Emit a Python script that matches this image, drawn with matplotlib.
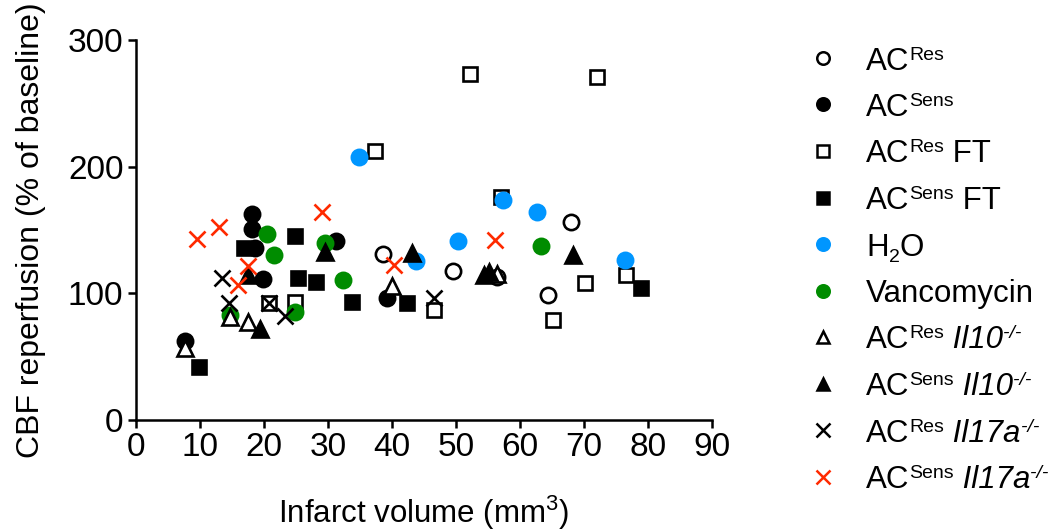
import matplotlib
matplotlib.use("Agg")
import matplotlib.pyplot as plt
from matplotlib.lines import Line2D

plt.rcParams['font.family'] = ['Liberation Sans', 'DejaVu Sans']
plt.rcParams['mathtext.fontset'] = 'custom'
plt.rcParams['mathtext.rm'] = 'Liberation Sans'
plt.rcParams['mathtext.it'] = 'Liberation Sans:italic'

# data: (infarct volume, CBF %)
ac_res_x = [38.6, 49.6, 56.4, 64.3, 67.9]
ac_res_y = [131, 118, 113, 99, 156.5]

ac_sens_x = [7.7, 18.1, 18.2, 18.6, 19.9, 31.3, 39.2]
ac_sens_y = [62, 163, 150.5, 136, 111, 141.5, 96]

ac_res_ft_x = [20.8, 24.8, 37.3, 46.5, 52.2, 57.1, 65.2, 70.2, 72.1, 76.6]
ac_res_ft_y = [92, 93.5, 212, 87, 273, 176, 79, 108.4, 271, 114.5]

ac_sens_ft_x = [9.8, 16.8, 24.8, 25.3, 28.1, 33.7, 42.3, 78.9]
ac_sens_ft_y = [42, 135.5, 145.5, 112, 109, 93.4, 92.6, 104]

h2o_x = [34.9, 43.7, 50.3, 57.4, 62.6, 76.4]
h2o_y = [208, 125.5, 141, 174, 164, 126]

vanco_x = [14.7, 20.5, 21.6, 24.8, 29.5, 32.3, 63.3]
vanco_y = [83, 147, 130, 85.5, 139.5, 110.5, 137]

res_il10_x = [7.7, 14.7, 17.5, 40.0, 56.4]
res_il10_y = [57, 81, 77.6, 106, 115]

sens_il10_x = [17.5, 19.3, 29.6, 43.1, 54.3, 55.2, 68.3]
sens_il10_y = [114.5, 71.6, 133, 132, 114.5, 116.5, 130]

res_il17_x = [13.4, 14.6, 20.8, 23.3, 46.6]
res_il17_y = [112, 92.6, 92, 82, 96]

sens_il17_x = [9.5, 12.9, 16.0, 17.5, 29.0, 40.3, 56.1]
sens_il17_y = [142.6, 152, 106.5, 121.5, 164, 122, 142]

# legend labels as pieces: (text, kind) with kind n=normal, sup, sub, it, itsup
labels = [
    [('AC', 'n'), ('Res', 'sup')],
    [('AC', 'n'), ('Sens', 'sup')],
    [('AC', 'n'), ('Res', 'sup'), (' FT', 'n')],
    [('AC', 'n'), ('Sens', 'sup'), (' FT', 'n')],
    [('H', 'n'), ('2', 'sub'), ('O', 'n')],
    [('Vancomycin', 'n')],
    [('AC', 'n'), ('Res', 'sup'), (' Il10', 'it'), ('-/-', 'itsup')],
    [('AC', 'n'), ('Sens', 'sup'), (' Il10', 'it'), ('-/-', 'itsup')],
    [('AC', 'n'), ('Res', 'sup'), (' Il17a', 'it'), ('-/-', 'itsup')],
    [('AC', 'n'), ('Sens', 'sup'), (' Il17a', 'it'), ('-/-', 'itsup')],
]

blue = '#0096ff'
green = '#008c00'
red = '#ff2a00'

series = [
    (ac_res_x, ac_res_y, 'o', 'white', 'black'),
    (ac_sens_x, ac_sens_y, 'o', 'black', 'black'),
    (ac_res_ft_x, ac_res_ft_y, 's', 'white', 'black'),
    (ac_sens_ft_x, ac_sens_ft_y, 's', 'black', 'black'),
    (h2o_x, h2o_y, 'o', blue, blue),
    (vanco_x, vanco_y, 'o', green, green),
    (res_il10_x, res_il10_y, '^', 'white', 'black'),
    (sens_il10_x, sens_il10_y, '^', 'black', 'black'),
    (res_il17_x, res_il17_y, 'x', 'black', 'black'),
    (sens_il17_x, sens_il17_y, 'x', red, red),
]

W, H = 1052, 531
fig = plt.figure(figsize=(W / 100, H / 100), dpi=100)
ax = fig.add_axes([136 / W, 1 - 420 / H, 576 / W, 380 / H])

for xs, ys, m, fc, ec in series:
    ms = {'o': 11, 's': 10.5, '^': 11, 'x': 11.5}[m]
    ax.plot(xs, ys, linestyle='none', marker=m, markersize=ms,
            markerfacecolor=fc, markeredgecolor=ec, markeredgewidth=1.9,
            clip_on=False)

ax.set_xlim(0, 90)
ax.set_ylim(0, 300)
ax.set_xticks(range(0, 91, 10))
ax.set_yticks([0, 100, 200, 300])
for s in ['top', 'right']:
    ax.spines[s].set_visible(False)
for s in ['left', 'bottom']:
    ax.spines[s].set_linewidth(1.8)
ax.tick_params(width=1.8, length=6, labelsize=24, pad=3)
ax.set_xlabel(r'Infarct volume (mm$^{3}$)', fontsize=22.5, labelpad=22)
ax.set_ylabel('CBF reperfusion (% of baseline)', fontsize=23, labelpad=16)

# legend drawn by hand, one row every 46.5 px
renderer = fig.canvas.get_renderer()
big, small = 22.5, 14
for i, ((xs, ys, m, fc, ec), parts) in enumerate(zip(series, labels)):
    yc = 58 + 46.5 * i
    ms = {'o': 9, 's': 9, '^': 9, 'x': 10}[m]
    fig.add_artist(Line2D([823 / W], [1 - yc / H], transform=fig.transFigure,
                          linestyle='none', marker=m, markersize=ms,
                          markerfacecolor=fc, markeredgecolor=ec,
                          markeredgewidth=1.8))
    x = 866.0
    base = yc + 11.5
    for txt, kind in parts:
        size = big if kind in ('n', 'it') else small
        style = 'italic' if kind in ('it', 'itsup') else 'normal'
        dy = {'n': 0, 'it': 0, 'sup': 10, 'itsup': 10, 'sub': -7}[kind]
        t = fig.text(x / W, 1 - (base - dy) / H, txt, fontsize=size,
                     fontstyle=style, va='baseline', ha='left')
        bb = t.get_window_extent(renderer)
        x += bb.width

fig.savefig('out.png', dpi=100)
